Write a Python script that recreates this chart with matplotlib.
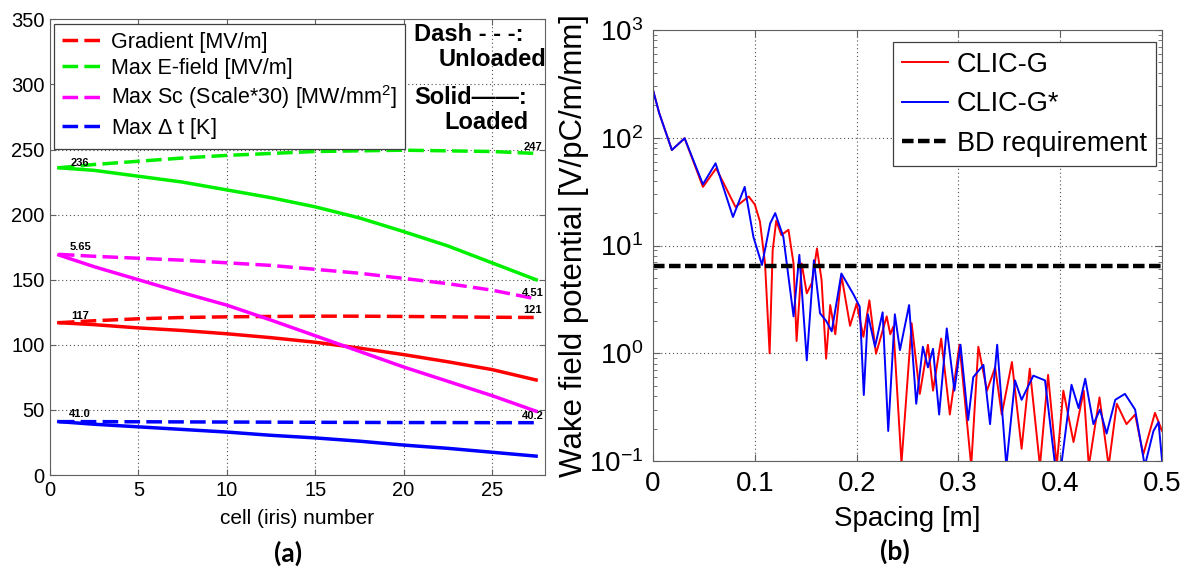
import matplotlib
matplotlib.use('Agg')
import matplotlib.pyplot as plt
from matplotlib.ticker import LogLocator, NullFormatter

plt.rcParams['font.family'] = ['Liberation Sans', 'DejaVu Sans']
plt.rcParams['mathtext.fontset'] = 'custom'
plt.rcParams['mathtext.rm'] = 'Liberation Sans'

# ---- panel (a): cell parameters ----
cell = [0.5, 2.5, 5, 7.5, 10, 12.5, 15, 17.5, 20, 22.5, 25, 27.5]
grad_unloaded = [117, 118.5, 120, 121, 121.5, 121.8, 122, 122, 121.8, 121.5, 121.2, 121]
grad_loaded = [117, 115.5, 113, 111, 108.5, 105.5, 102, 97.5, 92.5, 87, 81, 73]
efield_unloaded = [236, 238.5, 241, 243.5, 245.5, 247, 248.5, 249, 249.5, 249, 248.5, 247]
efield_loaded = [236, 234, 229.5, 225, 219, 213, 206, 197.5, 187, 176, 163, 150]
sc_unloaded = [169.5, 168, 166.5, 165, 163, 161, 158, 155, 151, 147, 142, 135.3]
sc_loaded = [169, 160, 150, 140, 130.5, 119, 107, 95, 83, 72, 61, 49]
dt_unloaded = [41, 41, 40.9, 40.8, 40.7, 40.6, 40.5, 40.4, 40.3, 40.3, 40.2, 40.2]
dt_loaded = [41, 39, 37, 35, 33, 30.5, 28.5, 26, 23, 20.5, 17.5, 14.5]

labels_a = ['Gradient [MV/m]', 'Max E-field [MV/m]',
            'Max Sc (Scale*30) [MW/mm$^2$]', r'Max $\Delta$ t [K]']
colors_a = ['#ff0000', '#00f000', '#ff00ff', '#0000ff']

# end-point labels (unloaded values)
start_txt = ['117', '236', '5.65', '41.0']
end_txt = ['121', '247', '4.51', '40.2']
start_y = [122, 240, 175, 47]
end_y = [126.5, 252, 140, 45]

# ---- panel (b): wake field ----
s_g = [0.000, 0.006, 0.0185, 0.031, 0.049, 0.062, 0.081, 0.094, 0.100, 0.105, 0.110,
       0.1145, 0.1175, 0.121, 0.126, 0.133, 0.138, 0.141, 0.146, 0.151, 0.156, 0.161,
       0.1655, 0.170, 0.174, 0.179, 0.185, 0.1935, 0.200, 0.2066, 0.2125, 0.219,
       0.2295, 0.233, 0.236, 0.244, 0.254, 0.262, 0.270, 0.275, 0.283, 0.2915,
       0.301, 0.3125, 0.3195, 0.328, 0.336, 0.3425, 0.3525, 0.362, 0.370, 0.380,
       0.388, 0.3965, 0.403, 0.413, 0.423, 0.428, 0.4385, 0.4475, 0.4555, 0.465,
       0.4735, 0.4815, 0.493, 0.500]
w_g = [277, 170, 77, 99, 35, 52, 22.8, 28.5, 24, 16.7, 6.8,
       1.0, 9, 17, 12.5, 14, 6.8, 1.3, 6.8, 3.6, 4.5, 9.4,
       4.8, 0.89, 2.8, 1.5, 5.3, 1.8, 2.9, 1.42, 3.1, 0.99,
       2.2, 1.5, 1.77, 0.095, 1.9, 0.42, 1.2, 0.45, 1.37, 0.27,
       1.2, 0.09, 1.15, 0.45, 0.74, 0.27, 0.83, 0.13, 0.72, 0.09,
       0.63, 0.09, 0.45, 0.15, 0.45, 0.09, 0.39, 0.09, 0.34, 0.22,
       0.27, 0.115, 0.28, 0.19]

s_gs = [0.000, 0.006, 0.0185, 0.031, 0.049, 0.0614, 0.0785, 0.090, 0.0986, 0.107,
        0.115, 0.120, 0.128, 0.138, 0.1437, 0.151, 0.158, 0.164, 0.170, 0.1755,
        0.185, 0.197, 0.203, 0.207, 0.211, 0.218, 0.2255, 0.231, 0.2375, 0.2425,
        0.2515, 0.2585, 0.265, 0.270, 0.275, 0.281, 0.2885, 0.296, 0.302, 0.3095,
        0.3145, 0.3245, 0.331, 0.338, 0.347, 0.3555, 0.362, 0.3735, 0.385, 0.395,
        0.4015, 0.411, 0.418, 0.4245, 0.4325, 0.439, 0.4455, 0.454, 0.4635, 0.4735,
        0.483, 0.4915, 0.4965, 0.500]
w_gs = [277, 170, 77, 99, 37, 58, 18.4, 35, 12, 6.6,
        16, 20, 12, 2.2, 8.2, 0.86, 7.3, 2.35, 2.0, 1.6,
        5.5, 3.5, 2.7, 0.41, 2.3, 1.15, 2.4, 0.19, 2.3, 1.07,
        2.8, 0.34, 1.15, 0.74, 1.1, 0.27, 1.7, 0.45, 1.2, 0.24,
        0.6, 0.78, 0.22, 1.2, 0.09, 0.56, 0.37, 0.62, 0.56, 0.09,
        0.1, 0.51, 0.31, 0.58, 0.22, 0.3, 0.18, 0.37, 0.42, 0.3,
        0.09, 0.19, 0.23, 0.1]
bd_level = 6.5

fig = plt.figure(figsize=(11.93, 5.71), dpi=100)
ax1 = fig.add_axes([0.0419, 0.1681, 0.4149, 0.798])
ax2 = fig.add_axes([0.5474, 0.1926, 0.4267, 0.7548])

spine_col = '#606060'
grid_kw = dict(color='#505050', linestyle=(0, (1, 2.5)), linewidth=0.8)

# panel (a)
dash = (0, (4.5, 1.8))
unloaded = [grad_unloaded, efield_unloaded, sc_unloaded, dt_unloaded]
loaded = [grad_loaded, efield_loaded, sc_loaded, dt_loaded]
for i in range(4):
    ax1.plot(cell, unloaded[i], color=colors_a[i], lw=2.5, linestyle=dash,
             label=labels_a[i])
for i in range(4):
    ax1.plot(cell, loaded[i], color=colors_a[i], lw=2.5)
for i in range(4):
    ax1.text(1.7, start_y[i], start_txt[i], fontsize=8, fontweight='bold',
             ha='center', va='center')
    ax1.text(27.3, end_y[i], end_txt[i], fontsize=8, fontweight='bold',
             ha='center', va='center')

ax1.set_xlim(0, 28)
ax1.set_ylim(0, 350)
ax1.set_xticks([0, 5, 10, 15, 20, 25])
ax1.set_yticks([0, 50, 100, 150, 200, 250, 300, 350])
ax1.tick_params(direction='in', top=True, right=True, labelsize=14.5,
                length=4, color=spine_col, pad=4)
ax1.grid(True, **grid_kw)
for sp in ax1.spines.values():
    sp.set_color(spine_col)
ax1.set_xlabel('cell (iris) number', fontsize=15, labelpad=7)

leg1 = ax1.legend(loc='upper left', bbox_to_anchor=(0.009, 0.989), fontsize=15.5,
                  handlelength=2.0, handletextpad=0.3, labelspacing=0.22,
                  borderpad=0.35, borderaxespad=0, fancybox=False, framealpha=1)
leg1.get_frame().set_edgecolor('#404040')
leg1.get_frame().set_linewidth(0.9)

ax1.text(20.6, 338, 'Dash - - -:', fontsize=17, fontweight='bold', va='center')
ax1.text(28.1, 319, 'Unloaded', fontsize=17, fontweight='bold', va='center', ha='right')
ax1.text(20.6, 290, 'Solid\u2014\u2014:', fontsize=17, fontweight='bold', va='center')
ax1.text(24.7, 271, 'Loaded', fontsize=17, fontweight='bold', va='center', ha='center')

# panel (b)
ax2.plot(s_g, w_g, color='#ff0000', lw=1.4, label='CLIC-G')
ax2.plot(s_gs, w_gs, color='#0000ff', lw=1.4, label='CLIC-G*')
ax2.axhline(bd_level, color='black', lw=3.2, linestyle=(0, (2.6, 1.0)),
            label='BD requirement')
ax2.set_yscale('log')
ax2.set_xlim(0, 0.5)
ax2.set_ylim(0.1, 1000)
ax2.set_xticks([0, 0.1, 0.2, 0.3, 0.4, 0.5])
ax2.set_xticklabels(['0', '0.1', '0.2', '0.3', '0.4', '0.5'])
ax2.yaxis.set_minor_locator(LogLocator(base=10, subs=range(2, 10)))
ax2.yaxis.set_minor_formatter(NullFormatter())
ax2.tick_params(which='both', direction='in', top=True, right=True,
                labelsize=20, color=spine_col)
ax2.tick_params(which='major', length=5, pad=7)
ax2.tick_params(which='minor', length=3)
ax2.grid(True, which='major', **grid_kw)
for sp in ax2.spines.values():
    sp.set_color(spine_col)
ax2.set_xlabel('Spacing [m]', fontsize=20, labelpad=7)
ax2.set_ylabel('Wake field potential [V/pC/m/mm]', fontsize=22.5, labelpad=0)

leg2 = ax2.legend(loc='upper right', bbox_to_anchor=(0.988, 0.972), fontsize=19.5,
                  handlelength=1.7, handletextpad=0.3, labelspacing=0.5,
                  borderpad=0.35, borderaxespad=0, fancybox=False, framealpha=1)
leg2.get_frame().set_edgecolor('#404040')
leg2.get_frame().set_linewidth(0.9)

fig.text(0.2414, 0.031, '(a)', fontsize=19, fontweight='bold', ha='center',
         va='center', family=['Lato', 'DejaVu Sans'])
fig.text(0.750, 0.034, '(b)', fontsize=19, fontweight='bold', ha='center',
         va='center', family=['Lato', 'DejaVu Sans'])

fig.savefig('out.png', dpi=100)
